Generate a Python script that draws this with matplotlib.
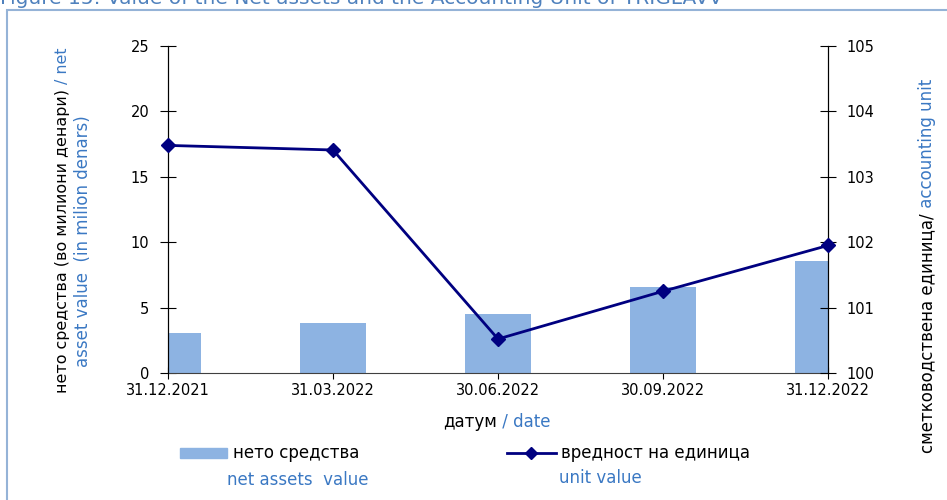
import matplotlib.pyplot as plt
from matplotlib.patches import Rectangle
from matplotlib.lines import Line2D

plt.rcParams['font.family'] = ['DejaVu Sans']

dates = ['31.12.2021', '31.03.2022', '30.06.2022', '30.09.2022', '31.12.2022']
net_assets = [3.06, 3.80, 4.53, 6.57, 8.56]          # million denars
unit_value = [103.48, 103.41, 100.52, 101.25, 101.95]

bar_col = '#8DB3E2'
line_col = '#000080'
blue = '#3A78C3'
fs = 10.5     # tick labels
fl = 12       # axis titles / legend

W, H = 947, 500
fig = plt.figure(figsize=(W / 100, H / 100), dpi=100)

def fx(px):
    return px / W

def fy(py):
    return 1 - py / H

# outer frame and title (cut off at the top like the source)
fig.add_artist(Rectangle((fx(7), fy(520)), fx(960), 510 / H, transform=fig.transFigure,
                         fill=False, edgecolor='#95B3D7', linewidth=1.5))
fig.text(fx(0), fy(4), 'Figure 15: Value of the Net assets and the Accounting Unit of TRIGLAVV',
         color='#4F81BD', fontsize=14.5, va='baseline', ha='left')

ax = fig.add_axes([fx(168), fy(373), fx(828) - fx(168), (373 - 46) / H])
x = list(range(len(dates)))
ax.bar(x, net_assets, width=0.4, color=bar_col, zorder=2)
ax.set_xlim(0, len(dates) - 1)
ax.set_ylim(0, 25)
ax.set_yticks([0, 5, 10, 15, 20, 25])
ax.set_xticks(x)
ax.set_xticklabels(dates)
ax.tick_params(axis='y', direction='inout', length=11, labelsize=fs, pad=8)
ax.tick_params(axis='x', direction='inout', length=8, labelsize=fs, pad=3)
ax.spines['top'].set_visible(False)
ax.spines['bottom'].set_color('#404040')

ax2 = ax.twinx()
ax2.plot(x, unit_value, color=line_col, linewidth=2, marker='D', markersize=7, clip_on=False, zorder=3)
ax2.set_ylim(100, 105)
ax2.set_yticks([100, 101, 102, 103, 104, 105])
ax2.tick_params(axis='y', direction='inout', length=11, labelsize=fs, pad=8)
ax2.spines['top'].set_visible(False)
ax2.spines['bottom'].set_visible(False)

renderer = fig.canvas.get_renderer()

def vtext(xpx, ybot, parts, size=fl):
    y = ybot
    for s, c in parts:
        t = fig.text(fx(xpx), fy(y), s, rotation=90, ha='center', va='bottom',
                     color=c, fontsize=size)
        y -= t.get_window_extent(renderer).height

def htext(xleft, ymid, parts):
    xx = xleft
    for s, c in parts:
        t = fig.text(fx(xx), fy(ymid), s, ha='left', va='center', color=c, fontsize=fl)
        xx += t.get_window_extent(renderer).width

# axis titles
vtext(62, 393, [('нето средства (во милиони денари)', 'black'), (' / net', blue)], size=11.4)
vtext(83, 367, [('asset value  (in milion denars)', blue)])
vtext(927, 453, [('сметководствена единица/', 'black'), (' accounting unit', blue)])
htext(443, 422, [('датум', 'black'), (' / date', blue)])

# legend
fig.add_artist(Rectangle((fx(180), fy(458)), fx(227) - fx(180), 10 / H,
                         transform=fig.transFigure, color=bar_col))
fig.text(fx(233), fy(453), 'нето средства', fontsize=fl, va='center')
fig.text(fx(227), fy(480), 'net assets  value', fontsize=fl, va='center', color=blue)
fig.add_artist(Line2D([fx(507), fx(531), fx(556)], [fy(453)] * 3, transform=fig.transFigure,
                      color=line_col, linewidth=2, marker='D', markersize=6, markevery=[1]))
fig.text(fx(561), fy(453), 'вредност на единица', fontsize=fl, va='center')
fig.text(fx(559), fy(478), 'unit value', fontsize=fl, va='center', color=blue)

plt.savefig('out.png', dpi=100)
